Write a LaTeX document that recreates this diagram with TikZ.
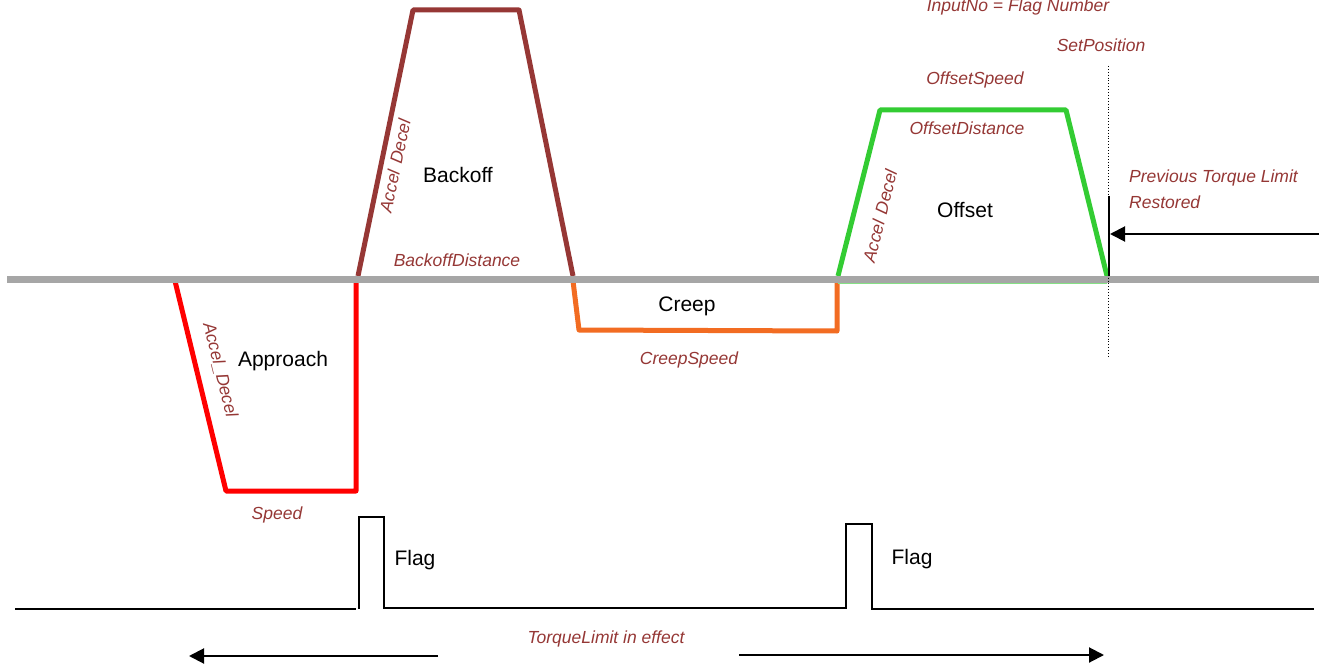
\documentclass[tikz,border=0pt]{standalone}
\usepackage{fontspec}
\setmainfont{Liberation Sans}
\usetikzlibrary{arrows.meta}
\definecolor{lblred}{RGB}{149,55,53}
\definecolor{brownln}{RGB}{150,55,53}
\definecolor{orangeln}{RGB}{242,108,34}
\definecolor{greenln}{RGB}{51,204,51}
\definecolor{grayln}{RGB}{166,166,166}
\tikzset{
  prof/.style={line width=5pt,line join=round},
  ital/.style={text=lblred,font=\fontsize{17.5}{20}\selectfont\itshape,inner sep=0pt},
  plain/.style={text=black,font=\fontsize{21}{24}\selectfont,inner sep=0pt},
  sig/.style={line width=2pt,black,line join=miter},
  tip/.style={-{Triangle[length=15pt,width=15pt]}}
}
\begin{document}
\begin{tikzpicture}[x=1pt,y=-1pt]
\useasboundingbox (0,0) rectangle (1319,668);
\clip (0,0) rectangle (1319,668);
% profile points
\coordinate (a0) at (175,281); \coordinate (a1) at (226,491); \coordinate (a2) at (356,491); \coordinate (a3) at (356,281);
\coordinate (b0) at (358,276); \coordinate (b1) at (413,10); \coordinate (b2) at (519,10); \coordinate (b3) at (573,276);
\coordinate (c0) at (573,281); \coordinate (c1) at (579,330); \coordinate (c2) at (837,331); \coordinate (c3) at (837,281);
\coordinate (d0) at (838,276); \coordinate (d1) at (880,110); \coordinate (d2) at (1066,110); \coordinate (d3) at (1107,276);
% profiles
\draw[prof,red] (a0) -- (a1) -- (a2) -- (a3);
\draw[prof,brownln] (b0) -- (b1) -- (b2) -- (b3);
\draw[prof,orangeln] (c0) -- (c1) -- (c2) -- (c3);
\draw[prof,greenln] (d0) -- (d1) -- (d2) -- (d3);
\draw[line width=1.5pt,greenln!60] (838,283) -- (1107,283);
% zero line
\coordinate (z0) at (7,279); \coordinate (z1) at (1319,279);
\draw[line width=7pt,grayln] (z0) -- (z1);
% set position marker
\coordinate (sp0) at (1108,66); \coordinate (sp1) at (1108,358);
\draw[line width=0.9pt,dotted] (sp0) -- (sp1);
\coordinate (tl0) at (1109,196); \coordinate (tl1) at (1109,276);
\draw[line width=2pt] (tl0) -- (tl1);
\coordinate (ra0) at (1319,234); \coordinate (ra1) at (1110,234);
\draw[line width=2pt,tip] (ra0) -- (ra1);
% flag signal
\draw[sig] (15,609) -- (356,609);
\draw[sig] (359,609) -- (359,517) -- (384,517) -- (384,608) -- (846,608) -- (846,524) -- (872,524) -- (872,609) -- (1314,609);
% torque limit arrows
\coordinate (la0) at (438,656); \coordinate (la1) at (189,656);
\coordinate (rb0) at (739,655); \coordinate (rb1) at (1104,655);
\draw[line width=2pt,tip] (la0) -- (la1);
\draw[line width=2pt,tip] (rb0) -- (rb1);
% labels
\node[ital,anchor=base] (inp) at (1018,12) {InputNo = Flag Number};
\node[ital,anchor=base] (setp) at (1101,52) {SetPosition};
\node[ital,anchor=base] (offs) at (975,85) {OffsetSpeed};
\node[ital,anchor=base] (offd) at (967,135) {OffsetDistance};
\node[ital,anchor=base] (bkd) at (457,267) {BackoffDistance};
\node[ital,anchor=base] (crs) at (689,364) {CreepSpeed};
\node[ital,anchor=base] (spd) at (277,519) {Speed};
\node[ital,anchor=base] (tle) at (606,643) {TorqueLimit in effect};
\node[ital,anchor=base west] (prv) at (1129,183) {Previous Torque Limit};
\node[ital,anchor=base west] (rst) at (1129,209) {Restored};
\node[ital,rotate=78] (ad1) at (395,166) {Accel\hspace{0.4em}Decel};
\node[ital,rotate=76] (ad2) at (880,216) {Accel\hspace{0.4em}Decel};
\node[ital,rotate=-76] (ad3) at (220,370) {Accel\_Decel};
\node[plain,anchor=base] (bk) at (458,183) {Backoff};
\node[plain,anchor=base] (ap) at (283,366) {Approach};
\node[plain,anchor=base] (cr) at (687,311) {Creep};
\node[plain,anchor=base] (of) at (965,218) {Offset};
\node[plain,anchor=base] (f1) at (415,565) {Flag};
\node[plain,anchor=base] (f2) at (912,564) {Flag};
\end{tikzpicture}
\end{document}
